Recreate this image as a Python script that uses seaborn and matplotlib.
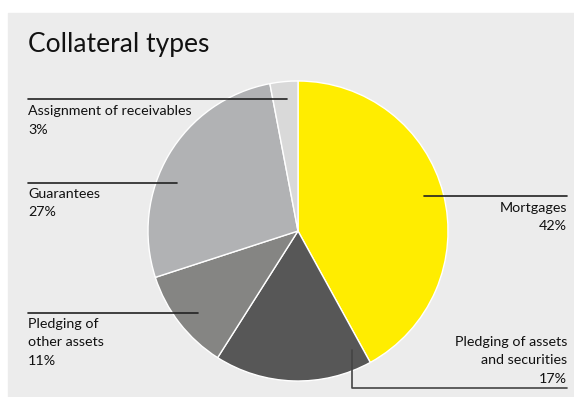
import matplotlib
matplotlib.use("Agg")
import matplotlib.pyplot as plt
import seaborn as sns

# Collateral mix, clockwise from 12 o'clock
categories = ["Mortgages", "Pledging of assets and securities",
              "Pledging of other assets", "Guarantees",
              "Assignment of receivables"]
shares = [42, 17, 11, 27, 3]
colors = ["#ffed00", "#575757", "#858583", "#b1b2b4", "#d9d9d9"]

sns.set_theme(style="white")
plt.rcParams["font.family"] = ["Lato", "DejaVu Sans"]

W, H = 574, 397
fig = plt.figure(figsize=(W / 100, H / 100), dpi=100)
fig.patch.set_facecolor("white")

# Overlay in pixel coordinates for panel, title and callouts
ov = fig.add_axes([0, 0, 1, 1])
ov.set_xlim(0, W)
ov.set_ylim(H, 0)
ov.axis("off")
ov.add_patch(plt.Rectangle((8, 13), W - 8, H - 13, color="#ececec", zorder=0))

# Pie axes: centre (298, 231), radius 150 px
cx, cy, r = 298, 231, 150
pie_ax = fig.add_axes([(cx - r) / W, (H - cy - r) / H, 2 * r / W, 2 * r / H])
pie_ax.pie(shares, colors=colors, startangle=90, counterclock=False,
           radius=1, wedgeprops=dict(edgecolor="white", linewidth=1.0))
pie_ax.set_xlim(-1, 1)
pie_ax.set_ylim(-1, 1)
pie_ax.axis("off")

# Callout layer above the pie
top = fig.add_axes([0, 0, 1, 1], zorder=5)
top.set_xlim(0, W)
top.set_ylim(H, 0)
top.axis("off")
top.patch.set_alpha(0)

top.text(28, 52, "Collateral types", fontsize=19, fontweight="normal",
         color="#111111", va="baseline", ha="left")

lc = "#222222"
lw = 1.2
fs = 10.3


def block(x, y0, lines, ha):
    for i, s in enumerate(lines):
        top.text(x, y0 + i * 18.5, s, fontsize=fs, color="#111111",
                 ha=ha, va="baseline")


def pct(i):
    return f"{shares[i]}%"


# Mortgages
top.plot([424, 567], [196, 196], color=lc, lw=lw)
block(567, 212, ["Mortgages", pct(0)], "right")

# Pledging of assets and securities
top.plot([352, 352, 567], [350, 388, 388], color="#444444", lw=lw)
block(567, 346, ["Pledging of assets", "and securities", pct(1)], "right")

# Pledging of other assets
top.plot([28, 198], [313, 313], color=lc, lw=lw)
block(28, 328, ["Pledging of", "other assets", pct(2)], "left")

# Guarantees
top.plot([28, 177], [183, 183], color=lc, lw=lw)
block(28, 198, ["Guarantees", pct(3)], "left")

# Assignment of receivables
top.plot([28, 287], [99, 99], color=lc, lw=lw)
block(28, 115, ["Assignment of receivables", pct(4)], "left")

fig.savefig("out.png", dpi=100, facecolor=fig.get_facecolor())
